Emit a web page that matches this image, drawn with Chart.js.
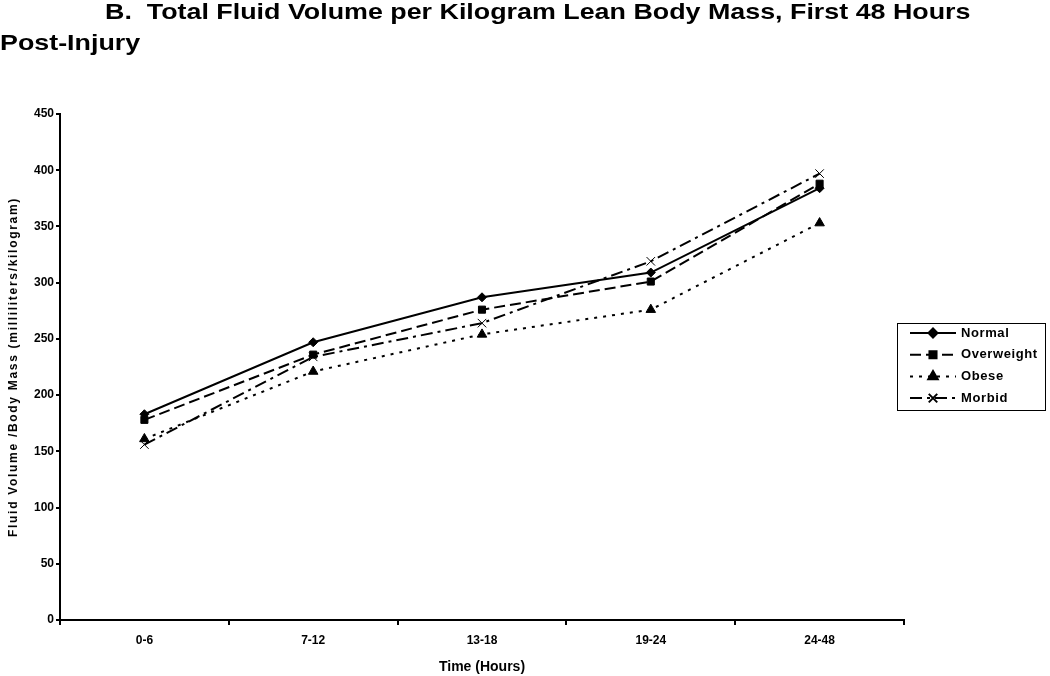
<!DOCTYPE html>
<html>
<head>
<meta charset="utf-8">
<script src="https://cdn.jsdelivr.net/npm/chart.js@4.4.1/dist/chart.umd.min.js"></script>
<style>
    html, body { margin: 0; padding: 0; background: #fff; }
    #wrap { position: relative; width: 1050px; height: 676px; overflow: hidden; }
    #chart { position: absolute; left: 0; top: 0; }
    .title { position: absolute; font-family: 'Liberation Sans', Arial, sans-serif; font-weight: bold; font-size: 22px; color: #000; white-space: pre; line-height: 24px; transform-origin: 0 0; transform: scaleX(1.22); }
    #ytitle { position: absolute; left: 13px; top: 367px; transform: translate(-50%, -50%) rotate(-90deg); font-family: 'Liberation Sans', Arial, sans-serif; font-weight: bold; font-size: 12px; letter-spacing: 1.7px; white-space: nowrap; color: #000; }
</style>
</head>
<body>
<div id="wrap">
    <canvas id="chart" width="1050" height="676"></canvas>
    <div class="title" style="left:105px; top:0px;">B.  Total Fluid Volume per Kilogram Lean Body Mass, First 48 Hours</div>
    <div class="title" style="left:0px; top:31px;">Post-Injury</div>
    <div id="ytitle">Fluid Volume /Body Mass (milliliters/kilogram)</div>
</div>
<script>
    const categories = ['0-6', '7-12', '13-18', '19-24', '24-48']
    const normal = [183, 247, 287, 309, 384]
    const overweight = [178, 236, 276, 301, 388]
    const obese = [161, 221, 254, 276, 353]
    const morbid = [156, 234, 264, 319, 397]
    const seriesNames = ['Normal', 'Overweight', 'Obese', 'Morbid']

    Chart.defaults.font.family = "'Liberation Sans', Arial, sans-serif"
    Chart.defaults.color = '#000'

    function series(label, data, dash, style, radius, width) {
        return {
            label: label,
            data: data,
            borderColor: '#000',
            backgroundColor: '#000',
            borderWidth: 2,
            borderDash: dash,
            pointStyle: style,
            pointRadius: radius,
            pointBorderWidth: width,
            pointBorderColor: '#000',
            pointBackgroundColor: '#000',
            tension: 0
        }
    }

    // legend box drawn by hand, lines + markers like the original
    const boxLegend = {
        id: 'boxLegend',
        afterDraw(chart) {
            const ctx = chart.ctx
            const x0 = 897, y0 = 323, w = 148, h = 87
            ctx.save()
            ctx.strokeStyle = '#000'
            ctx.lineWidth = 1
            ctx.strokeRect(x0 + 0.5, y0 + 0.5, w, h)
            chart.data.datasets.forEach((ds, i) => {
                const y = y0 + 10 + i * 21.7
                ctx.strokeStyle = '#000'
                ctx.lineWidth = 2
                ctx.setLineDash(ds.borderDash || [])
                ctx.beginPath()
                ctx.moveTo(910, y)
                ctx.lineTo(956, y)
                ctx.stroke()
                ctx.setLineDash([])
                Chart.helpers.drawPoint(ctx, {
                    pointStyle: ds.pointStyle,
                    radius: ds.pointRadius,
                    borderWidth: ds.pointBorderWidth
                }, 933, y)
                ctx.fillStyle = '#000'
                ctx.font = "bold 13px 'Liberation Sans', Arial, sans-serif"
                ctx.letterSpacing = '0.6px'
                ctx.textBaseline = 'middle'
                ctx.textAlign = 'left'
                ctx.fillText(ds.label, 961, y)
                ctx.letterSpacing = '0px'
            })
            ctx.restore()
        }
    }

    const ctx = document.getElementById('chart').getContext('2d')
    const myChart = new Chart(ctx, {
        type: 'line',
        data: {
            labels: categories,
            datasets: [
                series(seriesNames[0], normal, [], 'rectRot', 4.5, 1),
                series(seriesNames[1], overweight, [11, 5], 'rect', 5, 1),
                series(seriesNames[2], obese, [3, 6], 'triangle', 5.5, 1),
                series(seriesNames[3], morbid, [12, 5, 3, 5], 'crossRot', 6, 1)
            ]
        },
        options: {
            responsive: false,
            animation: false,
            layout: { padding: { top: 114, right: 146, left: 0, bottom: 0 } },
            plugins: {
                legend: { display: false },
                title: { display: false },
                tooltip: { enabled: false }
            },
            scales: {
                x: {
                    offset: true,
                    grid: { display: true, offset: true, drawOnChartArea: false, drawTicks: true, tickLength: 5, color: '#000', lineWidth: 2 },
                    border: { display: true, color: '#000', width: 2 },
                    ticks: { font: { size: 12, weight: 'bold' }, padding: 8, maxRotation: 0 },
                    title: { display: true, text: 'Time (Hours)', font: { size: 14, weight: 'bold' }, padding: { top: 4, bottom: 0 } },
                    afterFit(scale) { scale.height = 56 }
                },
                y: {
                    min: 0,
                    max: 450,
                    ticks: { stepSize: 50, font: { size: 12, weight: 'bold' }, padding: 2 },
                    grid: { display: true, drawOnChartArea: false, drawTicks: true, tickLength: 4, color: '#000', lineWidth: 2 },
                    border: { display: true, color: '#000', width: 2 },
                    title: { display: false },
                    afterFit(scale) { scale.width = 60 }
                }
            }
        },
        plugins: [boxLegend]
    })
</script>
</body>
</html>
